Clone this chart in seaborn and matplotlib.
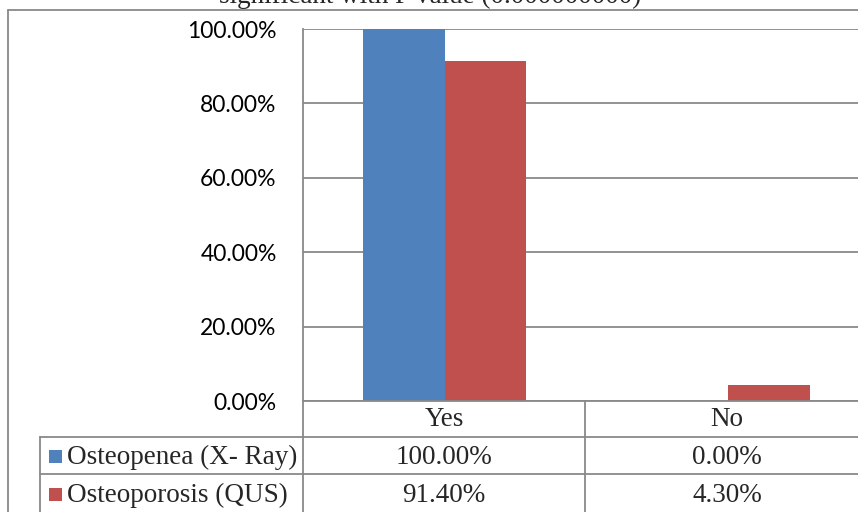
import matplotlib
matplotlib.use("Agg")
import matplotlib.pyplot as plt
import seaborn as sns
import pandas as pd
from matplotlib.lines import Line2D
from matplotlib.patches import Rectangle

# ---- data ----
categories = ["Yes", "No"]
series_names = ["Osteopenea (X- Ray)", "Osteoporosis (QUS)"]
xray_values = [100.0, 0.0]
qus_values = [91.4, 4.3]
ytick_values = [0, 20, 40, 60, 80, 100]
ytick_labels = ["0.00%", "20.00%", "40.00%", "60.00%", "80.00%", "100.00%"]
title_text = "significant with P value (0.000000000)"
colors = ["#4F81BD", "#C0504D"]
grid_color = "#898989"

df = pd.DataFrame({
    "category": categories * 2,
    "series": [series_names[0]] * 2 + [series_names[1]] * 2,
    "value": xray_values + qus_values,
})

W, H = 858, 512
fig = plt.figure(figsize=(W / 100, H / 100), dpi=100)
sns.set_style("white")

def fx(px):
    return px / W

def fy(py):
    return 1 - py / H

# plot area in pixel coordinates
L, R, T, B = 303, 870, 29, 401
ax = fig.add_axes([fx(L), fy(B), fx(R - L), (B - T) / H])
sns.barplot(data=df, x="category", y="value", hue="series", palette=colors,
            width=0.575, ax=ax, legend=False, saturation=1, linewidth=0)
ax.set_xlim(-0.5, 1.5)
ax.set_ylim(0, 100)
ax.set_yticks(ytick_values)
ax.set_yticklabels(ytick_labels, fontsize=16.5, family="Lato", color="black")
ax.tick_params(axis="y", length=0, pad=19)
ax.set_xticks([])
ax.set_xlabel("")
ax.set_ylabel("")
for s in ["top", "right", "bottom"]:
    ax.spines[s].set_visible(False)
ax.spines["left"].set_color(grid_color)
ax.spines["left"].set_linewidth(1.3)
ax.yaxis.grid(True, color=grid_color, linewidth=1.3)
ax.set_axisbelow(True)

def hline(y, x0, x1):
    fig.add_artist(Line2D([fx(x0), fx(x1)], [fy(y), fy(y)], color=grid_color,
                          lw=1.3, transform=fig.transFigure))

def vline(x, y0, y1):
    fig.add_artist(Line2D([fx(x), fx(x)], [fy(y0), fy(y1)], color=grid_color,
                          lw=1.3, transform=fig.transFigure))

# outer chart border
hline(10, 8, W)
vline(8, 10, H)

# data table
hline(401, 303, W)
hline(437, 40, W)
hline(474, 40, W)
vline(40, 437, H)
vline(303, 401, H)
vline(585, 401, H)

cat_centers = [444, 727]
row_y = [457, 495]
serif = "Liberation Serif"
fs = 19.5
for c, cx in zip(categories, cat_centers):
    fig.text(fx(cx), fy(420), c, ha="center", va="center", fontsize=fs,
             family=serif)
for i, (name, vals) in enumerate(zip(series_names, [xray_values, qus_values])):
    y = row_y[i]
    fig.add_artist(Rectangle((fx(49), fy(y + 6)), fx(13), 13 / H,
                             facecolor=colors[i], edgecolor="none",
                             transform=fig.transFigure))
    fig.text(fx(67), fy(y), name, ha="left", va="center", fontsize=fs,
             family=serif)
    for v, cx in zip(vals, cat_centers):
        fig.text(fx(cx), fy(y), f"{v:.2f}%", ha="center", va="center",
                 fontsize=fs, family=serif)

# clipped title (cut off at the top, as in the source image)
fig.text(fx(430), fy(3), title_text, ha="center", va="baseline", fontsize=fs,
         family=serif)

fig.savefig("out.png", dpi=100)
